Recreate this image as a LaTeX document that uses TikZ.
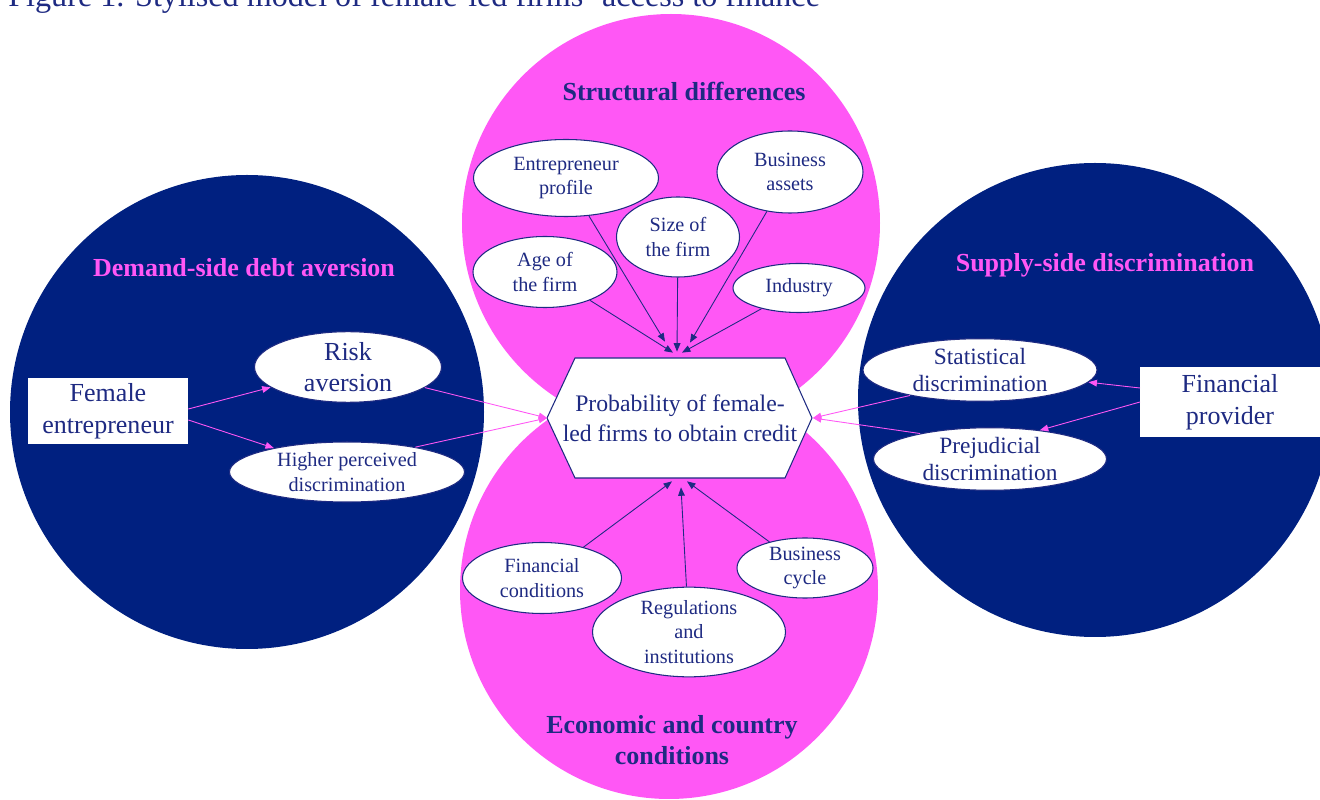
\documentclass[tikz,border=0pt]{standalone}
\usepackage{fontspec}
\setmainfont{Liberation Serif}
\usetikzlibrary{shapes.geometric,arrows.meta}
\definecolor{navyfill}{RGB}{0,32,128}
\definecolor{pinkfill}{RGB}{255,87,245}
\definecolor{navytext}{RGB}{30,42,130}
\tikzset{
  bubble/.style={ellipse, draw=navytext, fill=white, line width=0.6pt, inner sep=0pt,
    text=navytext, align=center, font=\fontsize{11.5}{14}\selectfont},
  bigbubble/.style={bubble, font=\fontsize{14.8}{18}\selectfont},
  midbubble/.style={bubble, font=\fontsize{13.3}{15.8}\selectfont},
  whitebox/.style={fill=white, text=navytext, align=center, inner sep=0pt,
    font=\fontsize{14.8}{18}\selectfont},
  heading/.style={align=center, font=\bfseries\fontsize{14.8}{17.6}\selectfont},
  link/.style={navytext, line width=0.5pt, -{Triangle[length=4.8pt,width=3.8pt]}},
  pinklink/.style={pinkfill, line width=0.5pt, -{Triangle[length=4.8pt,width=3.8pt]}}
}
\begin{document}
\begin{tikzpicture}[x=0.02cm,y=-0.02cm]
\pgfmathsetlengthmacro\pxlen{0.02cm}
\useasboundingbox (0,0) rectangle (1320,800);
\clip (0,0) rectangle (1320,800);
\node[anchor=base west, inner sep=0pt, text=navytext, font=\fontsize{18.3}{20}\selectfont] (title) at (8,7) {Figure 1. Stylised model of female-led firms’ access to finance};
% the four circles
\fill[pinkfill] (671,223) circle[radius=209*\pxlen];
\fill[pinkfill] (669,590) circle[radius=209*\pxlen];
\fill[navyfill] (247,412) circle[radius=237*\pxlen];
\fill[navyfill] (1095,400) circle[radius=237*\pxlen];
% headings
\node[heading, text=navytext] (struct) at (684,92) {Structural differences};
\node[heading, text=pinkfill] (demand) at (244,268) {Demand-side debt aversion};
\node[heading, text=pinkfill] (supply) at (1105,265) {Supply-side discrimination};
\node[heading, text=navytext] (econ) at (672,740) {Economic and country\\conditions};
% centre
\draw[navytext, fill=white, line width=0.6pt] (547,418) -- (575,358) -- (785,358) -- (812,418) -- (785,478) -- (575,478) -- cycle;
\node[text=navytext, align=center, inner sep=0pt, minimum width=265*\pxlen, minimum height=120*\pxlen,
  font=\fontsize{13.5}{17}\selectfont] (prob) at (680,418) {Probability of female-\\led firms to obtain credit};
% structural differences
\node[bubble, minimum width=185*\pxlen, minimum height=77*\pxlen] (profile) at (566,178) {Entrepreneur\\profile};
\node[bubble, minimum width=146*\pxlen, minimum height=82*\pxlen] (assets) at (790,172) {Business\\assets};
\node[bubble, minimum width=123*\pxlen, minimum height=80*\pxlen] (size) at (678,237) {Size of\\the firm};
\node[bubble, minimum width=144*\pxlen, minimum height=71*\pxlen] (age) at (545,272) {Age of\\the firm};
\node[bubble, minimum width=132*\pxlen, minimum height=49*\pxlen] (industry) at (799,288) {Industry};
\draw[link] (profile) -- ([shift={(-15,-16)}]prob.north);
\draw[link] (age) -- ([shift={(-7,-5)}]prob.north);
\draw[link] (size) -- ([shift={(-3,-6)}]prob.north);
\draw[link] (assets) -- ([shift={(10,-15)}]prob.north);
\draw[link] (industry) -- ([shift={(2,-5)}]prob.north);
% economic and country conditions
\node[bubble, minimum width=159*\pxlen, minimum height=71*\pxlen] (fincond) at (542,578) {Financial\\conditions};
\node[bubble, minimum width=193*\pxlen, minimum height=80*\pxlen] (regul) at (689,632) {Regulations\\and\\institutions};
\node[bubble, minimum width=136*\pxlen, minimum height=60*\pxlen] (cycle) at (805,568) {Business\\cycle};
\draw[link] (fincond) -- ([shift={(-8,3)}]prob.south);
\draw[link] (regul) -- ([shift={(1,9)}]prob.south);
\draw[link] (cycle) -- ([shift={(7,3)}]prob.south);
% demand side
\node[whitebox, minimum width=160*\pxlen, minimum height=66*\pxlen] (female) at (108,411) {Female\\entrepreneur};
\node[bigbubble, minimum width=187*\pxlen, minimum height=67*\pxlen] (risk) at (348,367) {Risk\\aversion};
\node[bubble, minimum width=235*\pxlen, minimum height=60*\pxlen] (higher) at (347,472) {Higher perceived\\discrimination};
\draw[pinklink] ([shift={(0,-2)}]female.east) -- (risk);
\draw[pinklink] ([shift={(0,9)}]female.east) -- (higher);
\draw[pinklink] (risk.-15) -- (prob.west);
\draw[pinklink] (higher.20) -- (prob.west);
% supply side
\node[whitebox, anchor=west, minimum width=190*\pxlen, minimum height=70*\pxlen] (provider) at (1140,402) {};
\node[text=navytext, align=center, font=\fontsize{14.8}{18}\selectfont] (provtext) at (1230,402) {Financial\\provider};
\node[midbubble, minimum width=234*\pxlen, minimum height=60*\pxlen] (stat) at (980,370) {Statistical\\discrimination};
\node[midbubble, minimum width=233*\pxlen, minimum height=62*\pxlen] (prej) at (990,459) {Prejudicial\\discrimination};
\draw[pinklink] ([shift={(0,-14)}]provider.west) -- (stat);
\draw[pinklink] (provider.west) -- (prej.30);
\draw[pinklink] (stat.200) -- (prob.east);
\draw[pinklink] (prej.160) -- (prob.east);
\end{tikzpicture}
\end{document}
